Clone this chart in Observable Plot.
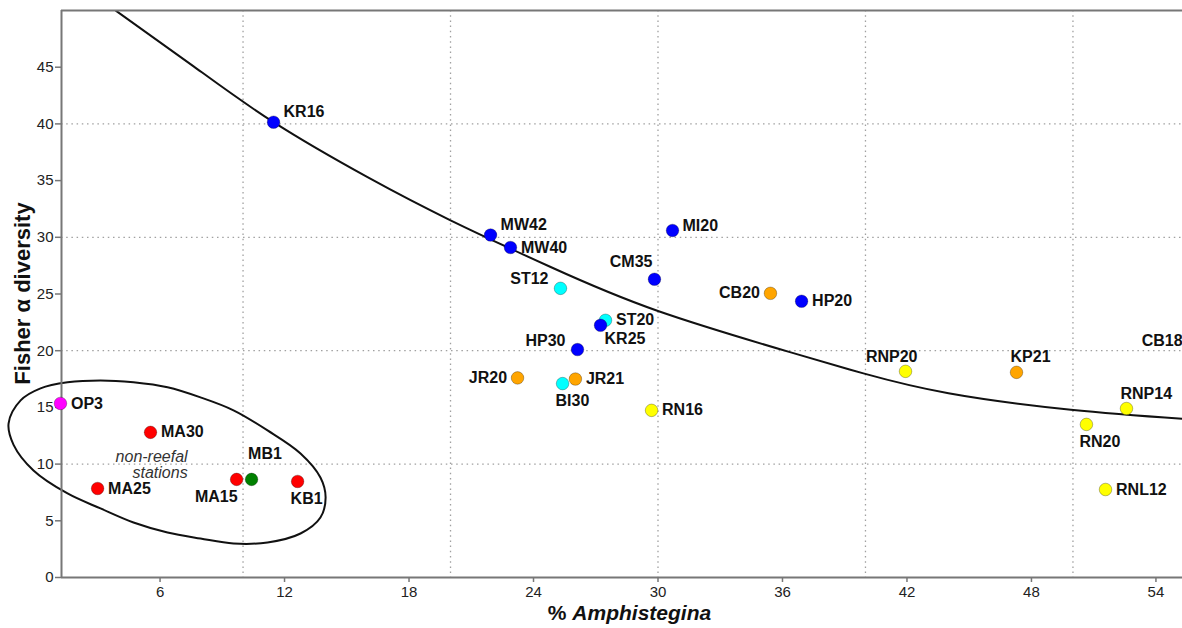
<!DOCTYPE html>
<html>
<head>
<meta charset="utf-8">
<script src="https://cdn.jsdelivr.net/npm/d3@7"></script>
<script src="https://cdn.jsdelivr.net/npm/@observablehq/plot@0.6"></script>
<style>
  html, body { margin: 0; padding: 0; background: #fff; }
  #chart svg { display: block; }
</style>
</head>
<body>
<div id="chart"></div>
<script>
// ---- data ----
const stations = ["KR16","MW42","MW40","MI20","CM35","ST12","CB20","HP20","ST20","KR25","HP30","JR20","BI30","JR21","RN16","RNP20","KP21","RN20","RNP14","RNL12","CB18","OP3","MA30","MA25","MA15","MB1","KB1"];
const amphistegina = [11.47,21.93,22.89,30.7,29.83,25.3,35.42,36.92,27.47,27.23,26.12,23.23,25.4,26.02,29.69,41.93,47.28,50.65,52.58,51.57,55.86,1.2,5.54,2.99,9.69,10.41,12.63];
const fisherAlpha = [40.15,30.2,29.1,30.6,26.3,25.5,25.06,24.36,22.68,22.24,20.1,17.6,17.1,17.5,14.74,18.18,18.09,13.5,14.9,7.76,20.1,15.35,12.8,7.85,8.65,8.65,8.47];
const stationGroup = ["blue","blue","blue","blue","blue","cyan","orange","blue","cyan","blue","blue","orange","cyan","orange","yellow","yellow","orange","yellow","yellow","yellow","orange","magenta","red","red","red","green","red"];
const labelSide = ["NE","NE","E","ENE","NNW","WNW","W","E","E","SE","WNW","W","S","E","E","NL","N","S","N","E","WNW","E","E","E","SW","NN","S"];

const groupNames = ["blue","cyan","orange","yellow","red","green","magenta"];
const groupColors = ["#0000f5","#33ffff","#f5821f","#ffff1a","#ff0d0d","#1e9e1e","#ff1aff"];

// fitted trend curve
const curveX = [3.86,7.6,11.47,16.0,20.0,24.8,30.0,36.4,39.9,44.0,49.9,55.28];
const curveY = [50.0,45.1,40.15,35.3,31.5,27.4,23.5,19.85,18.0,16.25,14.8,14.0];

// ellipse around the non-reefal stations
const ellipseX = [-1.30,-0.72,0.24,1.54,3.13,4.72,6.36,7.95,9.54,11.18,12.77,13.73,13.98,13.73,12.77,11.18,9.54,7.95,6.36,4.72,3.13,1.54,-0.10,-1.06];
const ellipseY = [13.6,15.62,16.68,17.21,17.38,17.21,16.77,15.88,14.74,12.97,10.94,8.82,7.06,5.29,3.88,3.09,3.0,3.44,3.97,4.85,6.09,7.41,9.44,11.7];

const noteText = ["non-reefal\nstations"];
const noteX = [7.33];
const noteY = [9.97];

const xDomain = [1.25, 55.28];
const yDomain = [0, 50];
const xTicks = [6,12,18,24,30,36,42,48,54];
const yTicks = [0,5,10,15,20,25,30,35,40,45];
const xGrid = [10,20,30,40,50];
const yGrid = [10,20,30,40];

// ---- build tables ----
const points = stations.map((s, i) => ({station: s, x: amphistegina[i], y: fisherAlpha[i], group: stationGroup[i], side: labelSide[i]}));
const curvePts = curveX.map((x, i) => ({x, y: curveY[i]}));
const ellipsePts = ellipseX.map((x, i) => ({x, y: ellipseY[i]}));
const notes = noteText.map((t, i) => ({text: t, x: noteX[i], y: noteY[i]}));

const placements = {
  E:   {dx: 10.5, dy: 0,   anchor: "start"},
  ENE: {dx: 10,   dy: -5,  anchor: "start"},
  NE:  {dx: 10,   dy: -10, anchor: "start"},
  W:   {dx: -10.5,dy: 0,   anchor: "end"},
  WNW: {dx: -12,  dy: -9,  anchor: "end"},
  NNW: {dx: -2,   dy: -17, anchor: "end"},
  SE:  {dx: 4,    dy: 14,  anchor: "start"},
  S:   {dx: -7,   dy: 17,  anchor: "start"},
  SW:  {dx: 1,    dy: 17,  anchor: "end"},
  N:   {dx: -6,   dy: -15, anchor: "start"},
  NL:  {dx: 12,   dy: -14, anchor: "end"},
  NN:  {dx: -3.5, dy: -26, anchor: "start"}
};

const labelMarks = Object.entries(placements).map(([code, p]) =>
  Plot.text(points.filter(d => d.side === code), {
    x: "x", y: "y", text: "station",
    dx: p.dx, dy: p.dy, textAnchor: p.anchor,
    fontWeight: "bold", fontSize: 16, fill: "#111"
  })
);

const gridStyle = {stroke: "#a0a0a0", strokeWidth: 1.3, strokeDasharray: "1.5,3.7"};

const chart = Plot.plot({
  width: 1182,
  height: 628,
  marginLeft: 61,
  marginRight: 0,
  marginTop: 10,
  marginBottom: 51,
  style: {fontFamily: "'Liberation Sans', Arial, Helvetica, sans-serif", fontSize: "15px", color: "#222", background: "#fff"},
  x: {domain: xDomain, ticks: xTicks, tickSize: 5, tickPadding: 4, label: null},
  y: {domain: yDomain, ticks: yTicks, tickSize: 6, tickPadding: 2, label: null},
  color: {domain: groupNames, range: groupColors},
  marks: [
    Plot.ruleX(xGrid, gridStyle),
    Plot.ruleY(yGrid, gridStyle),
    Plot.line(curvePts, {x: "x", y: "y", curve: "natural", stroke: "#111", strokeWidth: 2, clip: true}),
    Plot.line(ellipsePts, {x: "x", y: "y", curve: "catmull-rom-closed", stroke: "#111", strokeWidth: 2}),
    Plot.text(notes, {x: "x", y: "y", text: "text", textAnchor: "end", fontStyle: "italic", fontSize: 16, lineHeight: 1.0, fill: "#333"}),
    Plot.ruleX([xDomain[0]], {stroke: "#777", strokeWidth: 2}),
    Plot.ruleY(yDomain, {stroke: "#777", strokeWidth: 2}),
    Plot.dot(points, {x: "x", y: "y", fill: "group", r: 6.3, stroke: "#000", strokeOpacity: 0.35, strokeWidth: 0.8,
      filter: d => d.x <= xDomain[1]}),
    ...labelMarks
  ]
});

const svg = d3.select(chart);
svg.selectAll('g[aria-label="x-axis tick"], g[aria-label="y-axis tick"]').attr("stroke", "#777").attr("stroke-width", 1.5);

const xs = chart.scale("x");
const ys = chart.scale("y");
const xMid = (xs.range[0] + xs.range[1]) / 2;
const yMid = (ys.range[0] + ys.range[1]) / 2;

const xt = svg.append("text")
  .attr("x", xMid + 8)
  .attr("y", 620)
  .attr("text-anchor", "middle")
  .attr("font-family", "'Liberation Sans', Arial, Helvetica, sans-serif")
  .attr("font-size", 21)
  .attr("font-weight", "bold")
  .attr("fill", "#111");
xt.append("tspan").text("% ");
xt.append("tspan").attr("font-style", "italic").text("Amphistegina");

svg.append("text")
  .attr("transform", `translate(30,${yMid}) rotate(-90)`)
  .attr("text-anchor", "middle")
  .attr("font-family", "'Liberation Sans', Arial, Helvetica, sans-serif")
  .attr("font-size", 22)
  .attr("font-weight", "bold")
  .attr("fill", "#111")
  .text("Fisher α diversity");

document.getElementById("chart").appendChild(chart);
</script>
</body>
</html>
